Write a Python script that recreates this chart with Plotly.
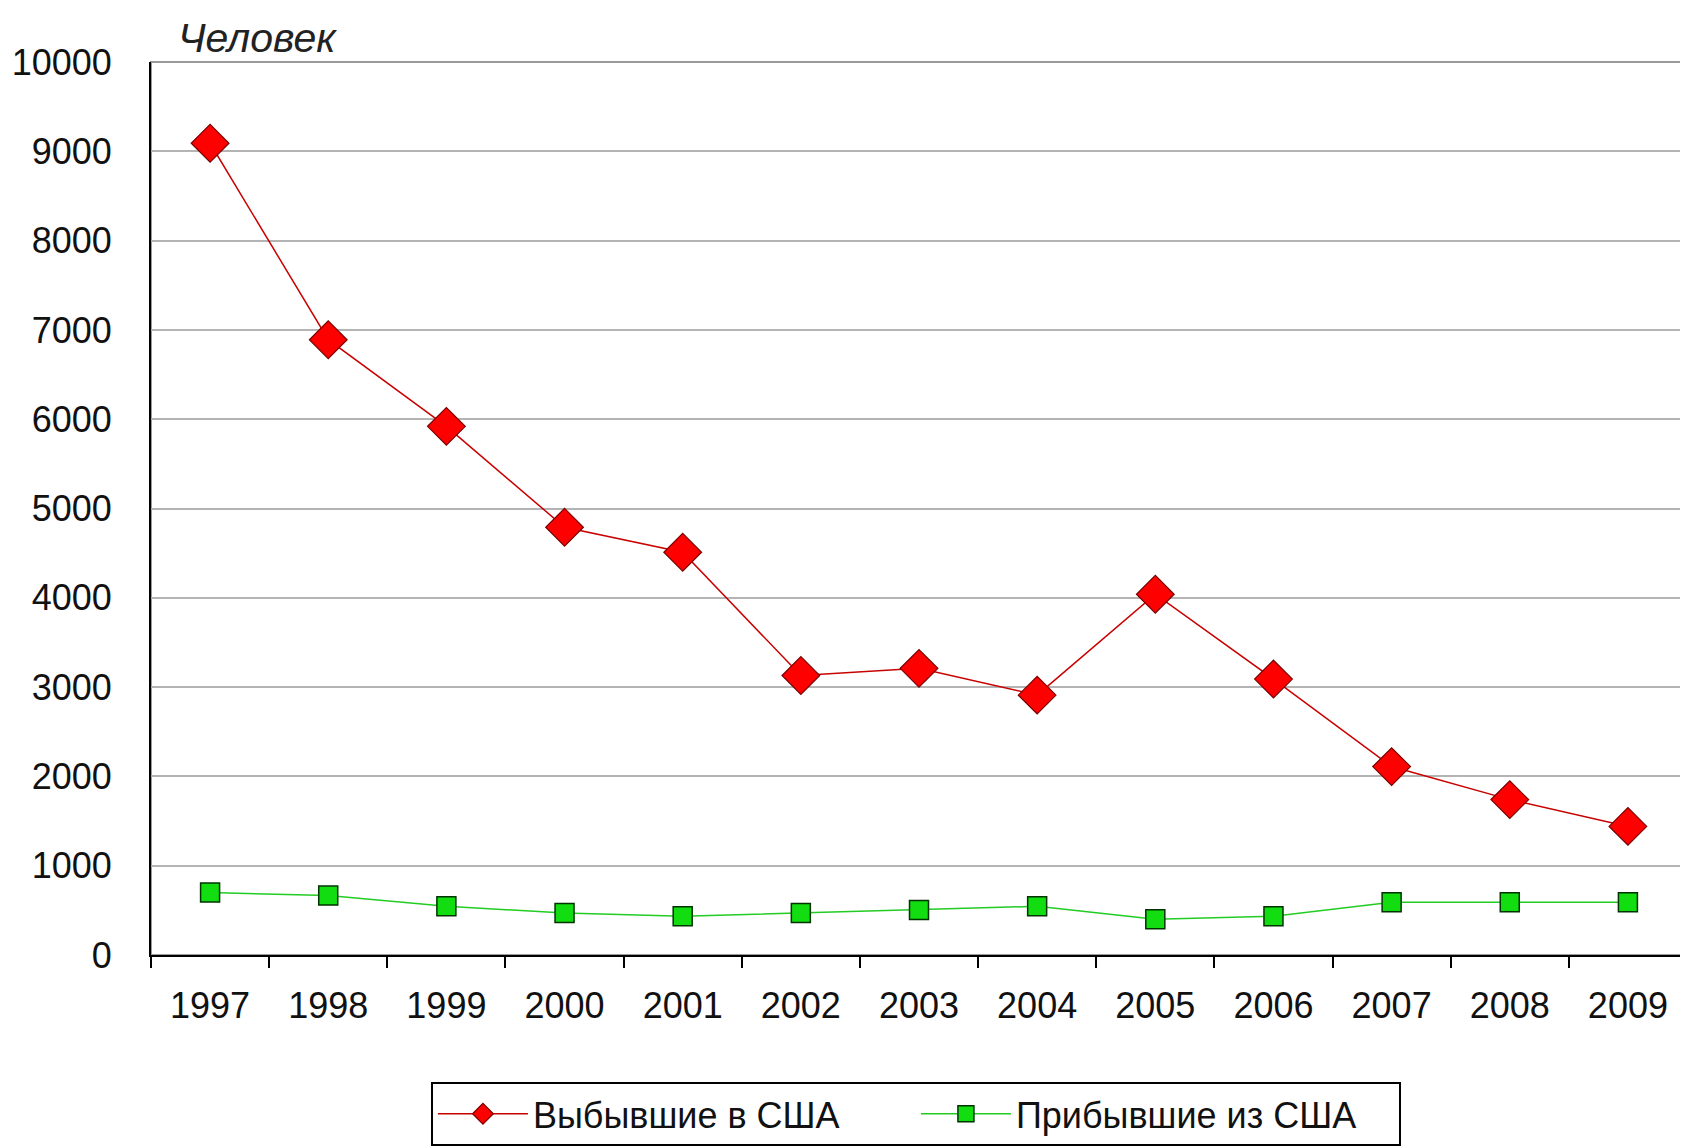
import plotly.graph_objects as go

# Данные: выбывшие в США и прибывшие из США, человек
years = ['1997', '1998', '1999', '2000', '2001', '2002', '2003',
         '2004', '2005', '2006', '2007', '2008', '2009']
left_to_usa = [9090, 6890, 5920, 4790, 4510, 3130, 3210,
               2910, 4040, 3090, 2110, 1740, 1440]
arrived_from_usa = [700, 665, 545, 470, 435, 470, 505,
                    545, 400, 435, 590, 590, 590]

font_family = "Liberation Sans, Arial, sans-serif"

fig = go.Figure()

fig.add_trace(go.Scatter(
    x=years, y=left_to_usa, name='Выбывшие в США',
    mode='lines+markers',
    line=dict(color='#c80000', width=1.5),
    marker=dict(symbol='diamond', size=29, color='#ff0000',
                line=dict(color='#7a0000', width=1.2)),
))

fig.add_trace(go.Scatter(
    x=years, y=arrived_from_usa, name='Прибывшие из США',
    mode='lines+markers',
    line=dict(color='#22cc22', width=1.5),
    marker=dict(symbol='square', size=19, color='#11dd11',
                line=dict(color='#003300', width=1.5)),
))

# grey frame on top / right of the plot area
fig.add_shape(type='rect', xref='paper', yref='paper', x0=0, x1=1, y0=0, y1=1,
              line=dict(color='#9a9a9a', width=2), layer='below')

fig.add_annotation(text='<i>Человек</i>', xref='paper', yref='paper',
                   x=0.016, y=1.027, xanchor='left', yanchor='middle',
                   showarrow=False, font=dict(size=41, color='#222'))

fig.update_layout(
    width=1688, height=1147,
    margin=dict(l=143, r=9, t=54, b=193),
    paper_bgcolor='white', plot_bgcolor='white',
    font=dict(family=font_family, size=36, color='#111'),
    showlegend=True,
    legend=dict(orientation='h', xanchor='center', x=0.498,
                yanchor='top', y=-0.142,
                bordercolor='black', borderwidth=2,
                font=dict(size=36), itemwidth=90,
                entrywidth=378, entrywidthmode='pixels'),
)

fig.update_xaxes(
    type='category', range=[-0.5, 12.5], showgrid=False,
    showline=True, linecolor='black', linewidth=2,
    ticks='outside', tickson='boundaries', ticklen=11, tickwidth=2,
    tickcolor='black', ticklabelstandoff=18, automargin=False,
)
fig.update_yaxes(
    range=[0, 10000], dtick=1000, tickformat='d',
    showgrid=True, gridcolor='#b4b4b4', gridwidth=2,
    showline=True, linecolor='black', linewidth=2,
    zeroline=False, ticks='', ticklabelstandoff=30, automargin=False,
)

fig.write_html("out.html")
